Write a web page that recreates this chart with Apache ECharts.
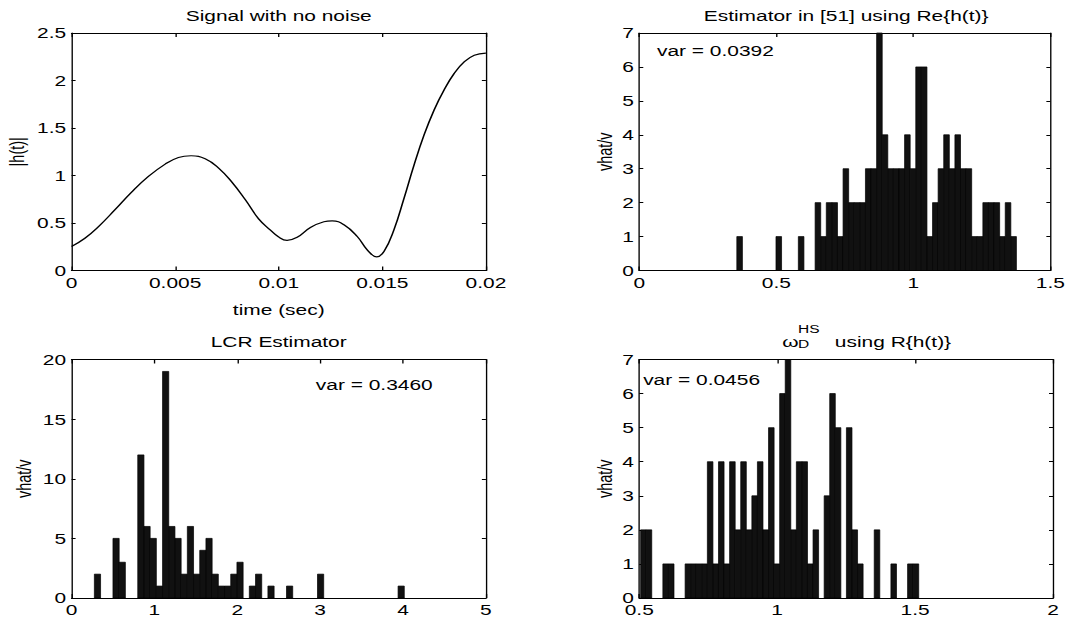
<!DOCTYPE html>
<html><head><meta charset="utf-8">
<script src="https://cdn.jsdelivr.net/npm/echarts@6/dist/echarts.min.js"></script>
<style>
html,body{margin:0;padding:0;overflow:hidden;background:#fff;width:1069px;height:625px}
#main{width:792px;height:625px;transform:scaleX(1.34975);transform-origin:0 0;}
</style></head><body><div id="main"></div>
<script>
// ---- data ----
const signalTime = [0, 0.000645, 0.00129, 0.0021, 0.0029, 0.00371, 0.00452, 0.00516, 0.00577, 0.00645, 0.0071, 0.00774, 0.00839, 0.00903, 0.0096, 0.01, 0.0104, 0.01089, 0.01153, 0.01218, 0.01258, 0.01315, 0.01379, 0.01427, 0.01473, 0.01508, 0.01556, 0.01605, 0.01653, 0.01702, 0.0175, 0.01798, 0.01847, 0.01895, 0.01944, 0.02];
const signalAbs  = [0.253, 0.34, 0.46, 0.64, 0.825, 0.99, 1.12, 1.19, 1.208, 1.176, 1.078, 0.93, 0.744, 0.544, 0.425, 0.352, 0.318, 0.35, 0.453, 0.513, 0.523, 0.481, 0.358, 0.218, 0.144, 0.2, 0.428, 0.762, 1.11, 1.43, 1.69, 1.9, 2.075, 2.195, 2.265, 2.289];

const reCounts  = [1,0,0,0,0,0,0,1,0,0, 0,1,0,0,2,1,2,2,1,3, 2,2,2,3,3,7,4,3,3,3, 4,3,6,6,1,2,3,4,3,4, 3,3,1,1,2,2,2,1,2,1];
const reRange   = [0.356, 1.376];
const lcrCounts = [2,0,0,5,3,0,0,12,6,5, 1,19,6,5,2,6,2,4,5,2, 1,1,2,3,0,1,2,0,1,0, 0,1,0,0,0,0,2,0,0,0, 0,0,0,0,0,0,0,0,0,1];
const lcrRange  = [0.2755, 4.015];
const rhCounts  = [2,2,0,0,1,1,0,0,1,1, 1,1,4,1,4,1,4,2,4,2, 3,4,2,5,1,6,7,2,4,4, 1,2,0,3,6,5,0,5,2,1, 0,0,2,0,0,1,0,0,1,1];
const rhRange   = [0.505, 1.513];

const titleTexts = ['Signal with no noise', 'Estimator in [51] using Re{h(t)}', 'LCR Estimator', 'using R{h(t)}'];
const varTexts = ['var = 0.0392', 'var = 0.3460', 'var = 0.0456'];
const xNames = ['time (sec)', '', '', ''];
const yNames = ['|h(t)|', 'vhat/v', 'vhat/v', 'vhat/v'];
const xRanges = [[0, 0.02, 0.005], [0, 1.5, 0.5], [0, 5, 1], [0.5, 2, 0.5]];
const yRanges = [[0, 2.5, 0.5], [0, 7, 1], [0, 20, 5], [0, 7, 1]];

// ---- layout (internal px, page is stretched horizontally) ----
const FONT = '"Liberation Sans", Arial, Helvetica, sans-serif';
const FS = 15.5;
const grids = [
  {left: 53, top: 33, width: 307, height: 237.5},
  {left: 473.6, top: 33, width: 306.6, height: 237.5},
  {left: 53, top: 359.5, width: 307, height: 238.5},
  {left: 473.6, top: 359.5, width: 306.6, height: 238.5}
];
const yNameGaps = [33, 18, 27.5, 18];

function histBins(counts, range) {
  const w = (range[1] - range[0]) / counts.length;
  return counts.map((c, i) => [range[0] + i * w, range[0] + (i + 1) * w, c]).filter(d => d[2] > 0);
}

const xAxes = [], yAxes = [];
grids.forEach((g, i) => {
  const [xmin, xmax, xint] = xRanges[i];
  const [ymin, ymax, yint] = yRanges[i];
  const line = {show: true, onZero: false, lineStyle: {color: '#000', width: 1}};
  xAxes.push({
    type: 'value', gridIndex: i, position: 'bottom', min: xmin, max: xmax, interval: xint,
    axisLine: line, axisTick: {show: true, inside: true, length: 4, lineStyle: {color: '#000'}},
    axisLabel: {color: '#000', fontSize: FS, fontFamily: FONT, margin: 5, lineHeight: 14, showMinLabel: true, showMaxLabel: true},
    splitLine: {show: false},
    name: xNames[i], nameLocation: 'middle', nameGap: 31,
    nameTextStyle: {color: '#000', fontSize: FS, fontFamily: FONT}
  });
  xAxes.push({
    type: 'value', gridIndex: i, position: 'top', min: xmin, max: xmax, interval: xint,
    axisLine: line, axisTick: {show: true, inside: true, length: 4, lineStyle: {color: '#000'}},
    axisLabel: {show: false}, splitLine: {show: false}
  });
  yAxes.push({
    type: 'value', gridIndex: i, position: 'left', min: ymin, max: ymax, interval: yint,
    axisLine: line, axisTick: {show: true, inside: true, length: 3, lineStyle: {color: '#000'}},
    axisLabel: {color: '#000', fontSize: FS, fontFamily: FONT, margin: 4, lineHeight: 11, showMinLabel: true, showMaxLabel: true},
    splitLine: {show: false},
    name: yNames[i], nameLocation: 'middle', nameGap: yNameGaps[i],
    nameTextStyle: {color: '#000', fontSize: FS - 1, fontFamily: FONT}
  });
  yAxes.push({
    type: 'value', gridIndex: i, position: 'right', min: ymin, max: ymax, interval: yint,
    axisLine: line, axisTick: {show: true, inside: true, length: 3, lineStyle: {color: '#000'}},
    axisLabel: {show: false}, splitLine: {show: false}
  });
});

function renderBar(params, api) {
  const p0 = api.coord([api.value(0), api.value(2)]);
  const p1 = api.coord([api.value(1), 0]);
  return {
    type: 'rect',
    shape: {x: p0[0], y: p0[1], width: p1[0] - p0[0], height: p1[1] - p0[1]},
    style: {fill: '#111', stroke: '#000', lineWidth: 0.6}
  };
}
function histSeries(counts, range, gi) {
  return {
    type: 'custom', xAxisIndex: gi * 2, yAxisIndex: gi * 2,
    renderItem: renderBar, encode: {x: [0, 1], y: 2},
    data: histBins(counts, range), silent: true
  };
}

const txt = (text, x, y, align, size) => ({
  type: 'text', x: x, y: y, silent: true,
  style: {text: text, fill: '#000', font: (size || FS) + 'px ' + FONT, textAlign: align, textVerticalAlign: 'middle'}
});

const graphics = [
  txt(titleTexts[0], grids[0].left + grids[0].width / 2, 15.3, 'center'),
  txt(titleTexts[1], grids[1].left + grids[1].width / 2, 15.3, 'center'),
  txt(titleTexts[2], grids[2].left + grids[2].width / 2, 341.5, 'center'),
  txt('\u03c9', 579.6, 341.2, 'left'),
  txt('D', 591.3, 344.4, 'left', 11.5),
  txt('HS', 591.3, 328.8, 'left', 11.5),
  txt(titleTexts[3], 618.5, 341.2, 'left'),
  txt(varTexts[0], 486.7, 51, 'left'),
  txt(varTexts[1], 234, 385, 'left'),
  txt(varTexts[2], 476.5, 379.5, 'left')
];

const chart = echarts.init(document.getElementById('main'), null, {renderer: 'svg'});
chart.setOption({
  animation: false,
  backgroundColor: '#fff',
  grid: grids.map(g => Object.assign({containLabel: false}, g)),
  xAxis: xAxes,
  yAxis: yAxes,
  graphic: graphics,
  series: [
    {
      type: 'line', xAxisIndex: 0, yAxisIndex: 0, showSymbol: false, smooth: 0.45, silent: true,
      lineStyle: {color: '#000', width: 1.2},
      data: signalTime.map((t, i) => [t, signalAbs[i]])
    },
    histSeries(reCounts, reRange, 1),
    histSeries(lcrCounts, lcrRange, 2),
    histSeries(rhCounts, rhRange, 3)
  ]
});
</script></body></html>
